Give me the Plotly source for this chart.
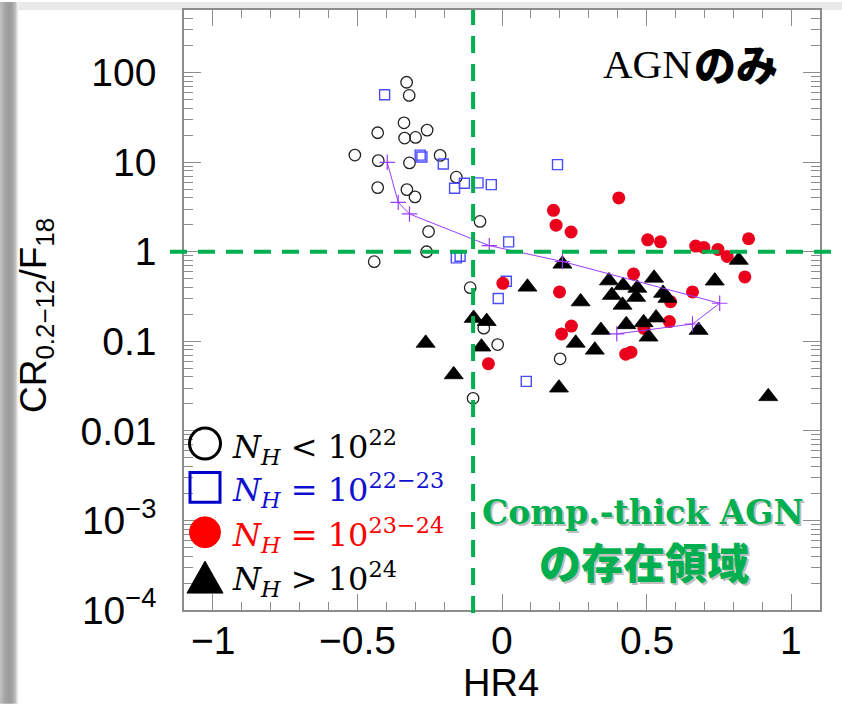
import numpy as np
import plotly.graph_objects as go

# ---- data -------------------------------------------------------------
# N_H < 1e22 (open circles)
thin_hr4 = [-0.330, -0.321, -0.339, -0.430, -0.337, -0.299, -0.259, -0.509,
            -0.428, -0.320, -0.214, -0.430, -0.329, -0.301, -0.158, -0.076,
            -0.254, -0.261, -0.442, -0.110, -0.063, -0.015, -0.100, 0.201]
thin_ratio = [78.0, 55.6, 27.5, 21.3, 18.6, 18.9, 22.8, 12.0,
              10.4, 9.8, 11.9, 5.2, 4.94, 4.1, 6.8, 2.18,
              1.68, 1.0, 0.774, 0.397, 0.140, 0.092, 0.0231, 0.0638]

# N_H = 1e22-23 (open squares)
mid_hr4 = [-0.406, -0.283, -0.277, -0.203, -0.164, -0.130, -0.083, -0.037,
           0.192, 0.023, -0.158, -0.145, 0.015, -0.013, 0.084]
mid_ratio = [56.5, 12.0, 11.4, 9.55, 5.12, 5.82, 5.87, 5.62,
             9.38, 1.29, 0.853, 0.891, 0.469, 0.300, 0.0357]

# N_H = 1e23-24 (filled red circles)
heavy_hr4 = [0.404, 0.178, 0.187, 0.239, 0.504, 0.548, 0.670, 0.698,
             0.747, 0.853, 0.779, 0.840, 0.455, 0.659, 0.583, 0.579,
             0.199, 0.003, 0.240, 0.206, 0.428, 0.446, -0.047, 0.491]
heavy_ratio = [3.99, 2.90, 1.98, 1.66, 1.36, 1.29, 1.157, 1.117,
               1.06, 1.396, 0.886, 0.523, 0.566, 0.356, 0.277, 0.166,
               0.356, 0.444, 0.148, 0.121, 0.0719, 0.0756, 0.0563, 0.139]

# N_H > 1e24 (filled triangles)
thick_hr4 = [-0.264, -0.167, -0.098, -0.053, -0.071, 0.088, 0.209, 0.197,
             0.272, 0.255, 0.321, 0.342, 0.370, 0.419, 0.468, 0.526,
             0.380, 0.417, 0.464, 0.557, 0.572, 0.430, 0.490, 0.533,
             0.507, 0.680, 0.736, 0.819, 0.921]
thick_ratio = [0.0955, 0.0425, 0.181, 0.167, 0.0866, 0.404, 0.730, 0.0302,
               0.277, 0.0957, 0.080, 0.133, 0.475, 0.420, 0.393, 0.509,
               0.327, 0.254, 0.311, 0.345, 0.303, 0.154, 0.162, 0.183,
               0.112, 0.133, 0.473, 0.806, 0.0242]

# model track
track_hr4 = [-0.397, -0.359, -0.320, -0.044, 0.209, 0.753, 0.659, 0.397]
track_ratio = [9.97, 3.56, 2.64, 1.17, 0.778, 0.266, 0.156, 0.121]

# axis ticks
x_tick_vals = [-1, -0.5, 0, 0.5, 1]
x_tick_text = ["\u22121", "\u22120.5", "0", "0.5", "1"]
y_tick_vals = [1e-4, 1e-3, 0.01, 0.1, 1, 10, 100]
y_tick_text = ["10<sup>\u22124</sup>", "10<sup>\u22123</sup>", "0.01", "0.1", "1", "10", "100"]
hr4_cut = -0.1
ratio_cut = 1.0

# ---- layout geometry --------------------------------------------------
W, H = 842, 704
ML, MR, MT, MB = 184, 22, 8, 94
PW, PH = W - ML - MR, H - MT - MB
YMIN, YMAX = -4, np.log10(500)


def px(x):
    return (x - ML) / PW


def py(y):
    return (H - MB - y) / PH


SANS = "Liberation Sans, Arial, sans-serif"
GREEN = "#00b050"
FRAME = "#8c8c8c"

fig = go.Figure()

fig.add_trace(go.Scatter(
    x=thin_hr4, y=thin_ratio, mode="markers",
    marker=dict(symbol="circle-open", size=11.5, color="#222222", line=dict(width=1.3)),
))
fig.add_trace(go.Scatter(
    x=mid_hr4, y=mid_ratio, mode="markers",
    marker=dict(symbol="square-open", size=10, color="#4b4bff", line=dict(width=1.4)),
))
fig.add_trace(go.Scatter(
    x=heavy_hr4, y=heavy_ratio, mode="markers",
    marker=dict(symbol="circle", size=13, color="#ea001c", line=dict(width=0)),
))
fig.add_trace(go.Scatter(
    x=thick_hr4, y=thick_ratio, mode="markers",
    marker=dict(symbol="triangle-up", size=16.5, color="#000000", line=dict(width=0.8, color="#000000")),
))
fig.add_trace(go.Scatter(
    x=track_hr4, y=track_ratio, mode="lines+markers",
    line=dict(color="#9b3cff", width=1),
    marker=dict(symbol="cross-thin-open", size=11, color="#9b3cff", line=dict(width=1.2, color="#9b3cff")),
))

shapes = []

# slide background: grey shadow strip on the left and a light band on top
left_cols = [(0, 2, "#bdbdbd"), (2, 4, "#b0b0b0"), (4, 6, "#a6a6a6"), (6, 8, "#a0a0a0"),
             (8, 10, "#9c9c9c"), (10, 12, "#9e9e9e"), (12, 14, "#a8a8a8"),
             (14, 16, "#bcbcbc"), (16, 17.5, "#d6d6d6"), (17.5, 18.5, "#eeeeee")]
for a, b, c in left_cols:
    shapes.append(dict(type="rect", xref="paper", yref="paper", x0=px(a), x1=px(b),
                       y0=py(H), y1=py(0), fillcolor=c, line=dict(width=0), layer="below"))
shapes.append(dict(type="rect", xref="paper", yref="paper", x0=px(18.5), x1=px(W),
                   y0=py(8), y1=py(0), fillcolor="#e9e9e9", line=dict(width=0), layer="below"))

# threshold lines
y_one = (np.log10(ratio_cut) - YMIN) / (YMAX - YMIN)
shapes.append(dict(type="line", xref="paper", yref="paper", x0=px(170), x1=px(836),
                   y0=y_one, y1=y_one, line=dict(color=GREEN, width=4, dash="17px,11px")))
shapes.append(dict(type="line", xref="x", yref="paper", x0=hr4_cut, x1=hr4_cut,
                   y0=py(613), y1=1.0, line=dict(color=GREEN, width=4, dash="17px,11px")))

# legend keys
kx = 205
r = 15.5
shapes.append(dict(type="circle", xref="paper", yref="paper",
                   x0=px(kx - r), x1=px(kx + r), y0=py(443 + r), y1=py(443 - r),
                   line=dict(color="#000000", width=3)))
s = 15
shapes.append(dict(type="rect", xref="paper", yref="paper",
                   x0=px(kx - s), x1=px(kx + s), y0=py(487 + s), y1=py(487 - s),
                   line=dict(color="#0000c8", width=3)))
shapes.append(dict(type="circle", xref="paper", yref="paper",
                   x0=px(kx - r), x1=px(kx + r), y0=py(532 + r), y1=py(532 - r),
                   fillcolor="#ff0000", line=dict(color="#ff0000", width=1)))
tri = "M {} {} L {} {} L {} {} Z".format(px(kx), py(561), px(kx + 18), py(593), px(kx - 18), py(593))
shapes.append(dict(type="path", xref="paper", yref="paper", path=tri,
                   fillcolor="#000000", line=dict(color="#000000", width=1)))

annotations = []
LEG_FONT = "DejaVu Serif, serif"
leg_rows = [
    (446, "<i>N</i><sub><i>H</i></sub> &lt; 10<sup>22</sup>", "#000000"),
    (490, "<i>N</i><sub><i>H</i></sub> = 10<sup>22\u221223</sup>", "#1010d0"),
    (535, "<i>N</i><sub><i>H</i></sub> = 10<sup>23\u221224</sup>", "#ff0000"),
    (579, "<i>N</i><sub><i>H</i></sub> &gt; 10<sup>24</sup>", "#000000"),
]
for yy, txt, col in leg_rows:
    annotations.append(dict(xref="paper", yref="paper", x=px(230), y=py(yy), text=txt,
                            showarrow=False, xanchor="left", yanchor="middle",
                            font=dict(family=LEG_FONT, size=32, color=col)))

# corner label
annotations.append(dict(xref="paper", yref="paper", x=px(694), y=py(62), text="AGN",
                        showarrow=False, xanchor="right", yanchor="middle",
                        font=dict(family="Liberation Serif, serif", size=41, color="#000000")))
annotations.append(dict(xref="paper", yref="paper", x=px(692), y=py(61), text="のみ",
                        showarrow=False, xanchor="left", yanchor="middle",
                        font=dict(family="Noto Sans CJK JP", size=42, color="#000000", weight=900)))

# Compton-thick region label with soft shadow
for dx, dy, col in [(2, -2, "rgba(110,110,110,0.45)"), (0, 0, GREEN)]:
    annotations.append(dict(xref="paper", yref="paper", x=px(643), y=py(512), text="Comp.-thick AGN",
                            showarrow=False, xanchor="center", yanchor="middle", xshift=dx, yshift=dy,
                            font=dict(family="DejaVu Serif, serif", size=33, color=col, weight="bold")))
    annotations.append(dict(xref="paper", yref="paper", x=px(644), y=py(560), text="の存在領域",
                            showarrow=False, xanchor="center", yanchor="middle", xshift=dx, yshift=dy,
                            font=dict(family="Noto Sans CJK JP", size=42, color=col, weight=900)))

# x tick labels, placed on the x axis scale
for v, t in zip(x_tick_vals, x_tick_text):
    annotations.append(dict(xref="x", yref="paper", x=v, y=py(641), text=t,
                            showarrow=False, xanchor="center", yanchor="middle",
                            font=dict(family=SANS, size=39, color="#000000")))

# axis titles
annotations.append(dict(xref="paper", yref="paper", x=px(36), y=py(315),
                        text="CR<sub>0.2\u221212</sub>/F<sub>18</sub>", textangle=-90,
                        showarrow=False, xanchor="center", yanchor="middle",
                        font=dict(family=SANS, size=37, color="#000000")))
annotations.append(dict(xref="paper", yref="paper", x=px(501), y=py(683), text="HR4",
                        showarrow=False, xanchor="center", yanchor="middle",
                        font=dict(family=SANS, size=38, color="#000000")))

minor_y = [m * 10.0 ** e for e in range(-4, 3) for m in range(2, 10) if m * 10.0 ** e < 500]

fig.update_layout(
    width=W, height=H, autosize=False,
    margin=dict(l=ML, r=MR, t=MT, b=MB, pad=0),
    paper_bgcolor="#ffffff", plot_bgcolor="#ffffff",
    showlegend=False,
    shapes=shapes, annotations=annotations,
    xaxis=dict(
        range=[-1.1, 1.1], tickmode="array", tickvals=x_tick_vals,
        showticklabels=False,
        ticks="inside", ticklen=16, tickwidth=1, tickcolor=FRAME,
        showline=True, linecolor=FRAME, linewidth=1.5, mirror="ticks",
        showgrid=False, zeroline=False,
        minor=dict(tickmode="linear", tick0=0, dtick=0.1, ticks="inside", ticklen=8,
                   tickwidth=1, tickcolor=FRAME, showgrid=False),
    ),
    yaxis=dict(
        type="log", range=[YMIN, YMAX], tickmode="array",
        tickvals=y_tick_vals, ticktext=y_tick_text,
        ticks="inside", ticklen=17, tickwidth=1, tickcolor=FRAME,
        showline=True, linecolor=FRAME, linewidth=1.5, mirror="ticks",
        showgrid=False, zeroline=False,
        minor=dict(tickmode="array", tickvals=minor_y, ticks="inside", ticklen=9,
                   tickwidth=1, tickcolor=FRAME, showgrid=False),
        tickfont=dict(family=SANS, size=39, color="#000000"),
        ticklabelstandoff=18,
    ),
)

fig.write_html("out.html")
